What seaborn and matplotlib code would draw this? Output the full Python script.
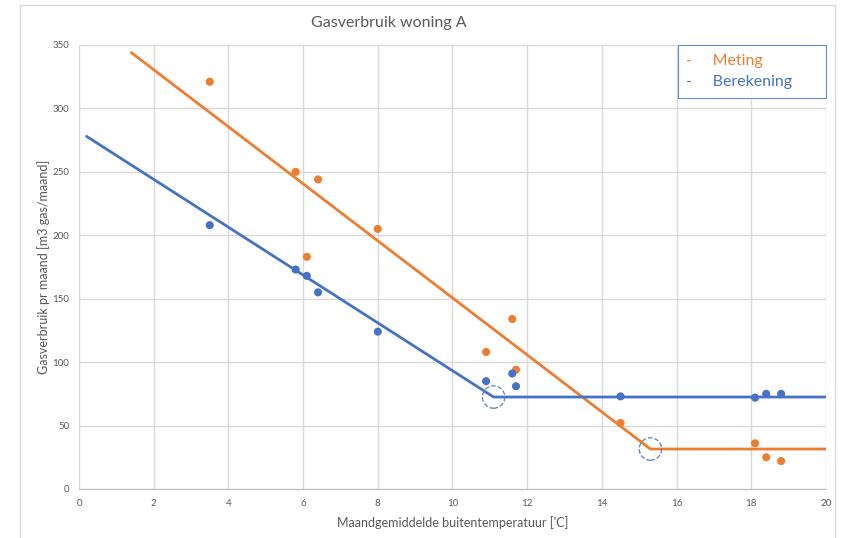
import numpy as np
import pandas as pd
import seaborn as sns
import matplotlib.pyplot as plt
from matplotlib.lines import Line2D
from matplotlib.patches import Rectangle

# measured points (temperature, gas use)
meting_x = [3.5, 5.8, 6.1, 6.4, 8.0, 10.9, 11.6, 11.7, 14.5, 18.1, 18.4, 18.8]
meting_y = [321, 250, 183, 244, 205, 108, 134, 94, 52, 36, 25, 22]
bereken_x = [3.5, 5.8, 6.1, 6.4, 8.0, 10.9, 11.6, 11.7, 14.5, 18.1, 18.4, 18.8]
bereken_y = [208, 173, 168, 155, 124, 85, 91, 81, 73, 72, 75, 75]

# fitted lines with breakpoint
meting_line_x = [1.4, 15.3, 20.0]
meting_line_y = [344, 31.5, 31.5]
bereken_line_x = [0.2, 11.1, 20.0]
bereken_line_y = [278, 72.5, 72.5]

orange = '#ED7D31'
blue = '#4472C4'
grey = '#595959'

sns.set_style('white')
plt.rcParams['font.family'] = ['Lato', 'DejaVu Sans']

fig = plt.figure(figsize=(8.48, 5.38), dpi=100)
ax = fig.add_axes([0.0932, 0.0911, 0.8808, 0.8253])

# outer chart frame
fig.patches.append(Rectangle((20 / 848, -0.01), 815 / 848, 1 - 5 / 538 + 0.01,
                             transform=fig.transFigure, fill=False,
                             edgecolor='#D9D9D9', linewidth=1))

df_m = pd.DataFrame({'x': meting_x, 'y': meting_y})
df_b = pd.DataFrame({'x': bereken_x, 'y': bereken_y})
line_m = pd.DataFrame({'x': meting_line_x, 'y': meting_line_y})
line_b = pd.DataFrame({'x': bereken_line_x, 'y': bereken_line_y})

sns.lineplot(data=line_m, x='x', y='y', ax=ax, color=orange, linewidth=2, sort=False)
sns.lineplot(data=line_b, x='x', y='y', ax=ax, color=blue, linewidth=2, sort=False)
sns.scatterplot(data=df_m, x='x', y='y', ax=ax, color=orange, s=34, edgecolor='none', zorder=3)
sns.scatterplot(data=df_b, x='x', y='y', ax=ax, color=blue, s=34, edgecolor='none', zorder=3)

# dashed circles at the breakpoints
ax.scatter([meting_line_x[1], bereken_line_x[1]], [meting_line_y[1], bereken_line_y[1]],
           s=260, facecolors='none', edgecolors='#5B7FC4', linewidths=0.9,
           linestyles='--', zorder=4)

ax.set_xlim(0, 20)
ax.set_ylim(0, 350)
ax.set_xticks(np.arange(0, 21, 2))
ax.set_yticks(np.arange(0, 351, 50))
ax.grid(True, color='#D9D9D9', linewidth=1)
ax.set_axisbelow(True)
for s in ['top', 'right', 'left']:
    ax.spines[s].set_visible(False)
ax.spines['bottom'].set_color('#BFBFBF')
ax.tick_params(axis='both', length=0, labelsize=7, labelcolor=grey, pad=7)

ax.set_xlabel("Maandgemiddelde buitentemperatuur ['C]", fontsize=9, color=grey, labelpad=6)
ax.set_ylabel('Gasverbruik pr maand [m3 gas/maand]', fontsize=9, color=grey, labelpad=2)
fig.text(0.458, 0.957, 'Gasverbruik woning A', fontsize=11.5, color=grey, ha='center', va='center')

handles = [Line2D([], [], linestyle='none'), Line2D([], [], linestyle='none')]
leg = ax.legend(handles, ['-     Meting', '-     Berekening      '], loc='upper right',
                handlelength=0, handletextpad=0, borderaxespad=0, fontsize=11.5,
                frameon=True, fancybox=False, labelcolor=[orange, blue],
                borderpad=0.55, labelspacing=0.45)
leg.get_frame().set_edgecolor(blue)
leg.get_frame().set_linewidth(0.8)

fig.savefig('out.png', dpi=100)
